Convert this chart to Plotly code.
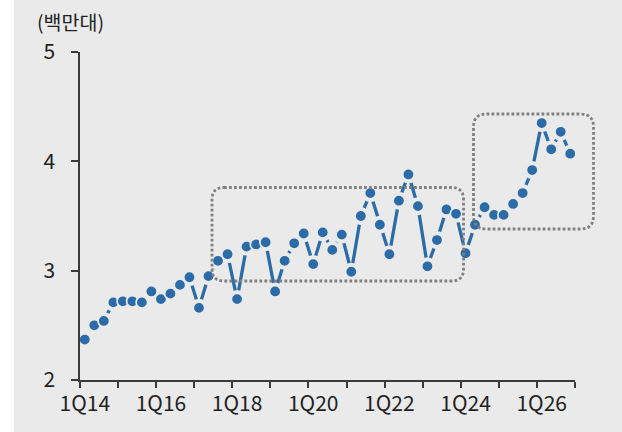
import plotly.graph_objects as go

# ---- data ----
years = list(range(14, 27))
quarters = [f"{q}Q{y}" for y in years for q in range(1, 5)]
values = [2.37, 2.50, 2.54, 2.71, 2.72, 2.72, 2.71, 2.81,
          2.74, 2.79, 2.87, 2.94, 2.66, 2.95, 3.09, 3.15,
          2.74, 3.22, 3.24, 3.26, 2.81, 3.09, 3.25, 3.34,
          3.06, 3.35, 3.19, 3.33, 2.99, 3.50, 3.71, 3.42,
          3.15, 3.64, 3.88, 3.59, 3.04, 3.28, 3.56, 3.52,
          3.16, 3.42, 3.58, 3.51, 3.51, 3.61, 3.71, 3.92,
          4.35, 4.11, 4.27, 4.07]
tick_labels = ["1Q14", "1Q16", "1Q18", "1Q20", "1Q22", "1Q24", "1Q26"]
y_ticks = [2, 3, 4, 5]
unit_label = "(백만대)"

# ---- styling ----
W, H = 622, 432
ML, MR, MT, MB = 80, 47, 52, 52
BG = "#EAEAEA"
BLUE = "#2B6CA8"
AXIS = "#3A3A3A"
TXT = "#222222"
FONT = "Noto Sans CJK KR"
PW, PH = W - ML - MR, H - MT - MB

xs = list(range(len(quarters)))
label_pos = [quarters.index(t) for t in tick_labels]
boundaries = [i - 0.5 for i in range(0, len(quarters) + 1, 4)]

def px_x(p):
    return (p - ML) / PW

def px_y(p):
    return (H - MB - p) / PH

fig = go.Figure()
fig.add_trace(go.Scatter(x=xs, y=values, mode="lines",
                         line=dict(color=BLUE, width=3.3),
                         hoverinfo="skip", showlegend=False))
fig.add_trace(go.Scatter(x=xs, y=values, mode="markers",
                         marker=dict(size=18, color=BG, line=dict(width=0)),
                         hoverinfo="skip", showlegend=False))
fig.add_trace(go.Scatter(x=xs, y=values, mode="markers",
                         marker=dict(size=11.5, color=BLUE,
                                     line=dict(width=1.7, color=BG)),
                         showlegend=False))

def rounded(left, top, right, bottom, r):
    w = right - left
    h = bottom - top
    path = (f"M {r},0 L {w - r},0 Q {w},0 {w},{-r} L {w},{-(h - r)} "
            f"Q {w},{-h} {w - r},{-h} L {r},{-h} Q 0,{-h} 0,{-(h - r)} "
            f"L 0,{-r} Q 0,0 {r},0 Z")
    return dict(type="path", xref="paper", yref="paper",
                xsizemode="pixel", ysizemode="pixel",
                xanchor=px_x(left), yanchor=px_y(top), path=path,
                line=dict(color="#808080", width=2.8, dash="2.8px,2.2px"),
                layer="above")

shapes = [
    dict(type="rect", xref="paper", yref="paper",
         x0=px_x(0), x1=px_x(14), y0=px_y(H), y1=px_y(0),
         fillcolor="white", line=dict(width=0), layer="above"),
    rounded(212, 187.5, 463.5, 281, 12),
    rounded(473.5, 114, 593.5, 229, 13),
]

fig.update_layout(
    width=W, height=H,
    margin=dict(l=ML, r=MR, t=MT, b=MB),
    paper_bgcolor=BG, plot_bgcolor=BG,
    font=dict(family=FONT, size=20, color=TXT),
    shapes=shapes,
    showlegend=False,
    annotations=[dict(text=unit_label, xref="paper", yref="paper",
                      x=px_x(35), y=px_y(21), xanchor="left", yanchor="middle",
                      showarrow=False, font=dict(family=FONT, size=19.5, color=TXT))],
)
fig.update_xaxes(range=[-0.5, len(quarters) - 0.5], automargin=False,
                 tickmode="array", tickvals=label_pos, ticktext=tick_labels,
                 ticks="", showgrid=False, zeroline=False,
                 showline=True, linecolor=AXIS, linewidth=1.5,
                 ticklabelstandoff=4,
                 tickfont=dict(family=FONT, size=21, color=TXT),
                 minor=dict(tickmode="array", tickvals=boundaries,
                            ticks="outside", ticklen=6, tickwidth=1.5,
                            tickcolor=AXIS, showgrid=False))
fig.update_yaxes(range=[2, 5], automargin=False,
                 tickmode="array", tickvals=y_ticks,
                 ticks="outside", ticklen=7, tickwidth=1.5, tickcolor=AXIS,
                 showgrid=False, zeroline=False,
                 showline=True, linecolor=AXIS, linewidth=1.5,
                 ticklabelstandoff=12,
                 tickfont=dict(family=FONT, size=21, color=TXT))

fig.write_html("out.html", config={"displayModeBar": False},
               post_script="document.body.style.margin='0';document.body.style.padding='0';")
